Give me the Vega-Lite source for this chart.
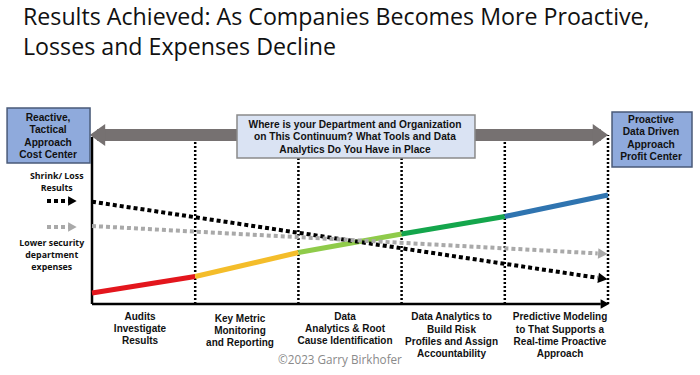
{
  "$schema": "https://vega.github.io/schema/vega-lite/v6.json",
  "width": 700,
  "height": 375,
  "autosize": {"type": "fit", "contains": "padding"},
  "padding": 0,
  "background": "white",
  "config": {"view": {"stroke": null}},
  "datasets": {
    "stages": [
      {"stage": 1, "bottom": 0, "top": 82},
      {"stage": 2, "bottom": 0, "top": 82},
      {"stage": 3, "bottom": 0, "top": 82},
      {"stage": 4, "bottom": 0, "top": 82},
      {"stage": 5, "bottom": 0, "top": 84.5}
    ],
    "axes": [
      {"x": 0, "x2": 0, "y": 0, "y2": 83.5},
      {"x": 0, "x2": 4.93, "y": 0, "y2": 0}
    ],
    "performance": [
      {"segment": "Audits", "stage": 0, "score": 5.5},
      {"segment": "Audits", "stage": 1, "score": 13.75},
      {"segment": "Key Metric", "stage": 1, "score": 13.75},
      {"segment": "Key Metric", "stage": 2, "score": 25.75},
      {"segment": "Root Cause", "stage": 2, "score": 25.75},
      {"segment": "Root Cause", "stage": 3, "score": 35},
      {"segment": "Risk Profiles", "stage": 3, "score": 35},
      {"segment": "Risk Profiles", "stage": 4, "score": 43.75},
      {"segment": "Predictive", "stage": 4, "score": 43.75},
      {"segment": "Predictive", "stage": 5, "score": 54.5}
    ],
    "trends": [
      {"series": "shrink", "stage": 0, "value": 51.15},
      {"series": "shrink", "stage": 4.9, "value": 13.1},
      {"series": "expense", "stage": 0, "value": 39},
      {"series": "expense", "stage": 4.9, "value": 25.3},
      {"series": "shrinkKey", "stage": -0.436, "value": 51.5},
      {"series": "shrinkKey", "stage": -0.22, "value": 51.5},
      {"series": "expenseKey", "stage": -0.436, "value": 38.5},
      {"series": "expenseKey", "stage": -0.22, "value": 38.5}
    ],
    "heads": [
      {"series": "shrink", "stage": 4.95, "value": 12.74},
      {"series": "expense", "stage": 4.95, "value": 25.14},
      {"series": "shrinkKey", "stage": -0.19, "value": 51.5},
      {"series": "expenseKey", "stage": -0.19, "value": 38.5},
      {"series": "axis", "stage": 4.97, "value": 0}
    ],
    "continuum": [
      {"stage": 0.05, "stage2": 4.93, "value": 84.5}
    ],
    "continuumHeads": [
      {"end": "left", "stage": 0.053, "value": 84.5},
      {"end": "right", "stage": 4.927, "value": 84.5}
    ],
    "boxes": [
      {"kind": "stance", "x": -0.823, "x2": -0.019, "y": 98, "y2": 70.5},
      {"kind": "stance", "x": 5.039, "x2": 5.814, "y": 96, "y2": 68.5},
      {"kind": "question", "x": 1.405, "x2": 3.711, "y": 94.5, "y2": 73}
    ],
    "boxText": [
      {"text": "Reactive,|Tactical|Approach|Cost Center", "stage": -0.426, "value": 93},
      {"text": "Proactive|Data Driven|Approach|Profit Center", "stage": 5.417, "value": 92},
      {"text": "Where is your Department and  Organization|on This Continuum?  What Tools and Data|Analytics Do You Have in Place", "stage": 2.548, "value": 89.5}
    ],
    "stageText": [
      {"text": "Audits|Investigate|Results", "stage": 0.465, "value": -6.35},
      {"text": "Key Metric|Monitoring|and Reporting", "stage": 1.434, "value": -7.35},
      {"text": "Data|Analytics & Root|Cause Identification", "stage": 2.452, "value": -6.35},
      {"text": "Data Analytics to|Build Risk|Profiles and Assign|Accountability", "stage": 3.484, "value": -6.65},
      {"text": "Predictive Modeling|to That Supports a|Real-time Proactive|Approach", "stage": 4.535, "value": -6.65}
    ],
    "keyText": [
      {"text": "Shrink/ Loss|Results", "stage": -0.342, "value": 64},
      {"text": "Lower security|department|expenses", "stage": -0.39, "value": 30.65}
    ],
    "credit": [
      {"text": "©2023 Garry Birkhofer", "stage": 2.403, "value": -28}
    ],
    "title": [
      {"text": "Results Achieved: As Companies Becomes More Proactive,", "stage": -0.6686, "value": 139.5},
      {"text": "Losses and Expenses Decline", "stage": -0.6686, "value": 124.5}
    ]
  },
  "layer": [
    {
      "data": {"name": "stages"},
      "mark": {"type": "rule", "color": "black", "strokeWidth": 2.5, "strokeDash": [2, 2]},
      "encoding": {
        "x": {"field": "stage", "type": "quantitative", "scale": {"domain": [-0.8915, 5.8915], "nice": false, "zero": false}, "axis": null},
        "y": {"field": "bottom", "type": "quantitative", "scale": {"domain": [-35.5, 152], "nice": false, "zero": false}, "axis": null},
        "y2": {"field": "top"}
      }
    },
    {
      "data": {"name": "axes"},
      "mark": {"type": "rule", "color": "black", "strokeWidth": 2.5},
      "encoding": {
        "x": {"field": "x", "type": "quantitative", "scale": {"domain": [-0.8915, 5.8915], "nice": false, "zero": false}, "axis": null},
        "x2": {"field": "x2"},
        "y": {"field": "y", "type": "quantitative", "scale": {"domain": [-35.5, 152], "nice": false, "zero": false}, "axis": null},
        "y2": {"field": "y2"}
      }
    },
    {
      "data": {"name": "performance"},
      "mark": {"type": "line", "strokeWidth": 5, "strokeCap": "butt"},
      "encoding": {
        "x": {"field": "stage", "type": "quantitative", "scale": {"domain": [-0.8915, 5.8915], "nice": false, "zero": false}, "axis": null},
        "y": {"field": "score", "type": "quantitative", "scale": {"domain": [-35.5, 152], "nice": false, "zero": false}, "axis": null},
        "color": {"field": "segment", "type": "nominal", "legend": null,
          "scale": {"domain": ["Audits", "Key Metric", "Root Cause", "Risk Profiles", "Predictive"],
                    "range": ["#e3161d", "#f4bd2a", "#8fcb4a", "#14a64c", "#2f74b0"]}},
        "order": {"field": "stage", "type": "quantitative"}
      }
    },
    {
      "data": {"name": "trends"},
      "transform": [{"filter": "datum.series === 'shrink' || datum.series === 'shrinkKey'"}],
      "mark": {"type": "line", "color": "black", "strokeWidth": 4, "strokeDash": [4, 3], "strokeCap": "butt"},
      "encoding": {
        "x": {"field": "stage", "type": "quantitative", "scale": {"domain": [-0.8915, 5.8915], "nice": false, "zero": false}, "axis": null},
        "y": {"field": "value", "type": "quantitative", "scale": {"domain": [-35.5, 152], "nice": false, "zero": false}, "axis": null},
        "detail": {"field": "series", "type": "nominal"}
      }
    },
    {
      "data": {"name": "trends"},
      "transform": [{"filter": "datum.series === 'expense' || datum.series === 'expenseKey'"}],
      "mark": {"type": "line", "color": "#a9a9a9", "strokeWidth": 4, "strokeDash": [4, 3], "strokeCap": "butt"},
      "encoding": {
        "x": {"field": "stage", "type": "quantitative", "scale": {"domain": [-0.8915, 5.8915], "nice": false, "zero": false}, "axis": null},
        "y": {"field": "value", "type": "quantitative", "scale": {"domain": [-35.5, 152], "nice": false, "zero": false}, "axis": null},
        "detail": {"field": "series", "type": "nominal"}
      }
    },
    {
      "data": {"name": "heads"},
      "transform": [{"filter": "datum.series === 'shrink'"}],
      "mark": {"type": "point", "filled": true, "color": "black", "opacity": 1, "size": 110, "angle": 8.6, "shape": "M -0.9 -1 L 0.9 0 L -0.9 1 Z"},
      "encoding": {
        "x": {"field": "stage", "type": "quantitative", "scale": {"domain": [-0.8915, 5.8915], "nice": false, "zero": false}, "axis": null},
        "y": {"field": "value", "type": "quantitative", "scale": {"domain": [-35.5, 152], "nice": false, "zero": false}, "axis": null}
      }
    },
    {
      "data": {"name": "heads"},
      "transform": [{"filter": "datum.series === 'expense'"}],
      "mark": {"type": "point", "filled": true, "color": "#a9a9a9", "opacity": 1, "size": 110, "angle": 3.1, "shape": "M -0.9 -1 L 0.9 0 L -0.9 1 Z"},
      "encoding": {
        "x": {"field": "stage", "type": "quantitative", "scale": {"domain": [-0.8915, 5.8915], "nice": false, "zero": false}, "axis": null},
        "y": {"field": "value", "type": "quantitative", "scale": {"domain": [-35.5, 152], "nice": false, "zero": false}, "axis": null}
      }
    },
    {
      "data": {"name": "heads"},
      "transform": [{"filter": "datum.series === 'shrinkKey' || datum.series === 'axis'"}],
      "mark": {"type": "point", "filled": true, "color": "black", "opacity": 1, "size": 90, "shape": "M -0.9 -1 L 0.9 0 L -0.9 1 Z"},
      "encoding": {
        "x": {"field": "stage", "type": "quantitative", "scale": {"domain": [-0.8915, 5.8915], "nice": false, "zero": false}, "axis": null},
        "y": {"field": "value", "type": "quantitative", "scale": {"domain": [-35.5, 152], "nice": false, "zero": false}, "axis": null}
      }
    },
    {
      "data": {"name": "heads"},
      "transform": [{"filter": "datum.series === 'expenseKey'"}],
      "mark": {"type": "point", "filled": true, "color": "#a9a9a9", "opacity": 1, "size": 90, "shape": "M -0.9 -1 L 0.9 0 L -0.9 1 Z"},
      "encoding": {
        "x": {"field": "stage", "type": "quantitative", "scale": {"domain": [-0.8915, 5.8915], "nice": false, "zero": false}, "axis": null},
        "y": {"field": "value", "type": "quantitative", "scale": {"domain": [-35.5, 152], "nice": false, "zero": false}, "axis": null}
      }
    },
    {
      "data": {"name": "continuum"},
      "mark": {"type": "rule", "color": "#767171", "strokeWidth": 12},
      "encoding": {
        "x": {"field": "stage", "type": "quantitative", "scale": {"domain": [-0.8915, 5.8915], "nice": false, "zero": false}, "axis": null},
        "x2": {"field": "stage2"},
        "y": {"field": "value", "type": "quantitative", "scale": {"domain": [-35.5, 152], "nice": false, "zero": false}, "axis": null}
      }
    },
    {
      "data": {"name": "continuumHeads"},
      "transform": [{"filter": "datum.end === 'right'"}],
      "mark": {"type": "point", "filled": true, "color": "#767171", "opacity": 1, "size": 484, "shape": "M -0.7 -1 L 0.7 0 L -0.7 1 Z"},
      "encoding": {
        "x": {"field": "stage", "type": "quantitative", "scale": {"domain": [-0.8915, 5.8915], "nice": false, "zero": false}, "axis": null},
        "y": {"field": "value", "type": "quantitative", "scale": {"domain": [-35.5, 152], "nice": false, "zero": false}, "axis": null}
      }
    },
    {
      "data": {"name": "continuumHeads"},
      "transform": [{"filter": "datum.end === 'left'"}],
      "mark": {"type": "point", "filled": true, "color": "#767171", "opacity": 1, "size": 484, "shape": "M 0.7 -1 L -0.7 0 L 0.7 1 Z"},
      "encoding": {
        "x": {"field": "stage", "type": "quantitative", "scale": {"domain": [-0.8915, 5.8915], "nice": false, "zero": false}, "axis": null},
        "y": {"field": "value", "type": "quantitative", "scale": {"domain": [-35.5, 152], "nice": false, "zero": false}, "axis": null}
      }
    },
    {
      "data": {"name": "boxes"},
      "mark": {"type": "rect", "strokeWidth": 1.5},
      "encoding": {
        "x": {"field": "x", "type": "quantitative", "scale": {"domain": [-0.8915, 5.8915], "nice": false, "zero": false}, "axis": null},
        "x2": {"field": "x2"},
        "y": {"field": "y", "type": "quantitative", "scale": {"domain": [-35.5, 152], "nice": false, "zero": false}, "axis": null},
        "y2": {"field": "y2"},
        "fill": {"field": "kind", "type": "nominal", "legend": null, "scale": {"domain": ["stance", "question"], "range": ["#8faadc", "#dae3f3"]}},
        "stroke": {"field": "kind", "type": "nominal", "legend": null, "scale": {"domain": ["stance", "question"], "range": ["#4a5a78", "#8a8a8a"]}}
      }
    },
    {
      "data": {"name": "boxText"},
      "mark": {"type": "text", "font": "Liberation Sans", "fontWeight": "bold", "fontSize": 10.2, "lineBreak": "|", "lineHeight": 12.4, "baseline": "middle", "align": "center", "color": "#111111"},
      "encoding": {
        "x": {"field": "stage", "type": "quantitative", "scale": {"domain": [-0.8915, 5.8915], "nice": false, "zero": false}, "axis": null},
        "y": {"field": "value", "type": "quantitative", "scale": {"domain": [-35.5, 152], "nice": false, "zero": false}, "axis": null},
        "text": {"field": "text", "type": "nominal"}
      }
    },
    {
      "data": {"name": "stageText"},
      "mark": {"type": "text", "font": "Liberation Sans", "fontWeight": "bold", "fontSize": 10, "lineBreak": "|", "lineHeight": 12.4, "baseline": "middle", "align": "center", "color": "#111111"},
      "encoding": {
        "x": {"field": "stage", "type": "quantitative", "scale": {"domain": [-0.8915, 5.8915], "nice": false, "zero": false}, "axis": null},
        "y": {"field": "value", "type": "quantitative", "scale": {"domain": [-35.5, 152], "nice": false, "zero": false}, "axis": null},
        "text": {"field": "text", "type": "nominal"}
      }
    },
    {
      "data": {"name": "keyText"},
      "mark": {"type": "text", "font": "Open Sans", "fontWeight": "bold", "fontSize": 8.8, "lineBreak": "|", "lineHeight": 12.3, "baseline": "middle", "align": "center", "color": "#111111"},
      "encoding": {
        "x": {"field": "stage", "type": "quantitative", "scale": {"domain": [-0.8915, 5.8915], "nice": false, "zero": false}, "axis": null},
        "y": {"field": "value", "type": "quantitative", "scale": {"domain": [-35.5, 152], "nice": false, "zero": false}, "axis": null},
        "text": {"field": "text", "type": "nominal"}
      }
    },
    {
      "data": {"name": "credit"},
      "mark": {"type": "text", "font": "Open Sans", "fontSize": 11.7, "baseline": "middle", "align": "center", "color": "#8a8a8a"},
      "encoding": {
        "x": {"field": "stage", "type": "quantitative", "scale": {"domain": [-0.8915, 5.8915], "nice": false, "zero": false}, "axis": null},
        "y": {"field": "value", "type": "quantitative", "scale": {"domain": [-35.5, 152], "nice": false, "zero": false}, "axis": null},
        "text": {"field": "text", "type": "nominal"}
      }
    },
    {
      "data": {"name": "title"},
      "mark": {"type": "text", "font": "Open Sans", "fontSize": 23.2, "baseline": "alphabetic", "align": "left", "color": "#111111"},
      "encoding": {
        "x": {"field": "stage", "type": "quantitative", "scale": {"domain": [-0.8915, 5.8915], "nice": false, "zero": false}, "axis": null},
        "y": {"field": "value", "type": "quantitative", "scale": {"domain": [-35.5, 152], "nice": false, "zero": false}, "axis": null},
        "text": {"field": "text", "type": "nominal"}
      }
    }
  ]
}
